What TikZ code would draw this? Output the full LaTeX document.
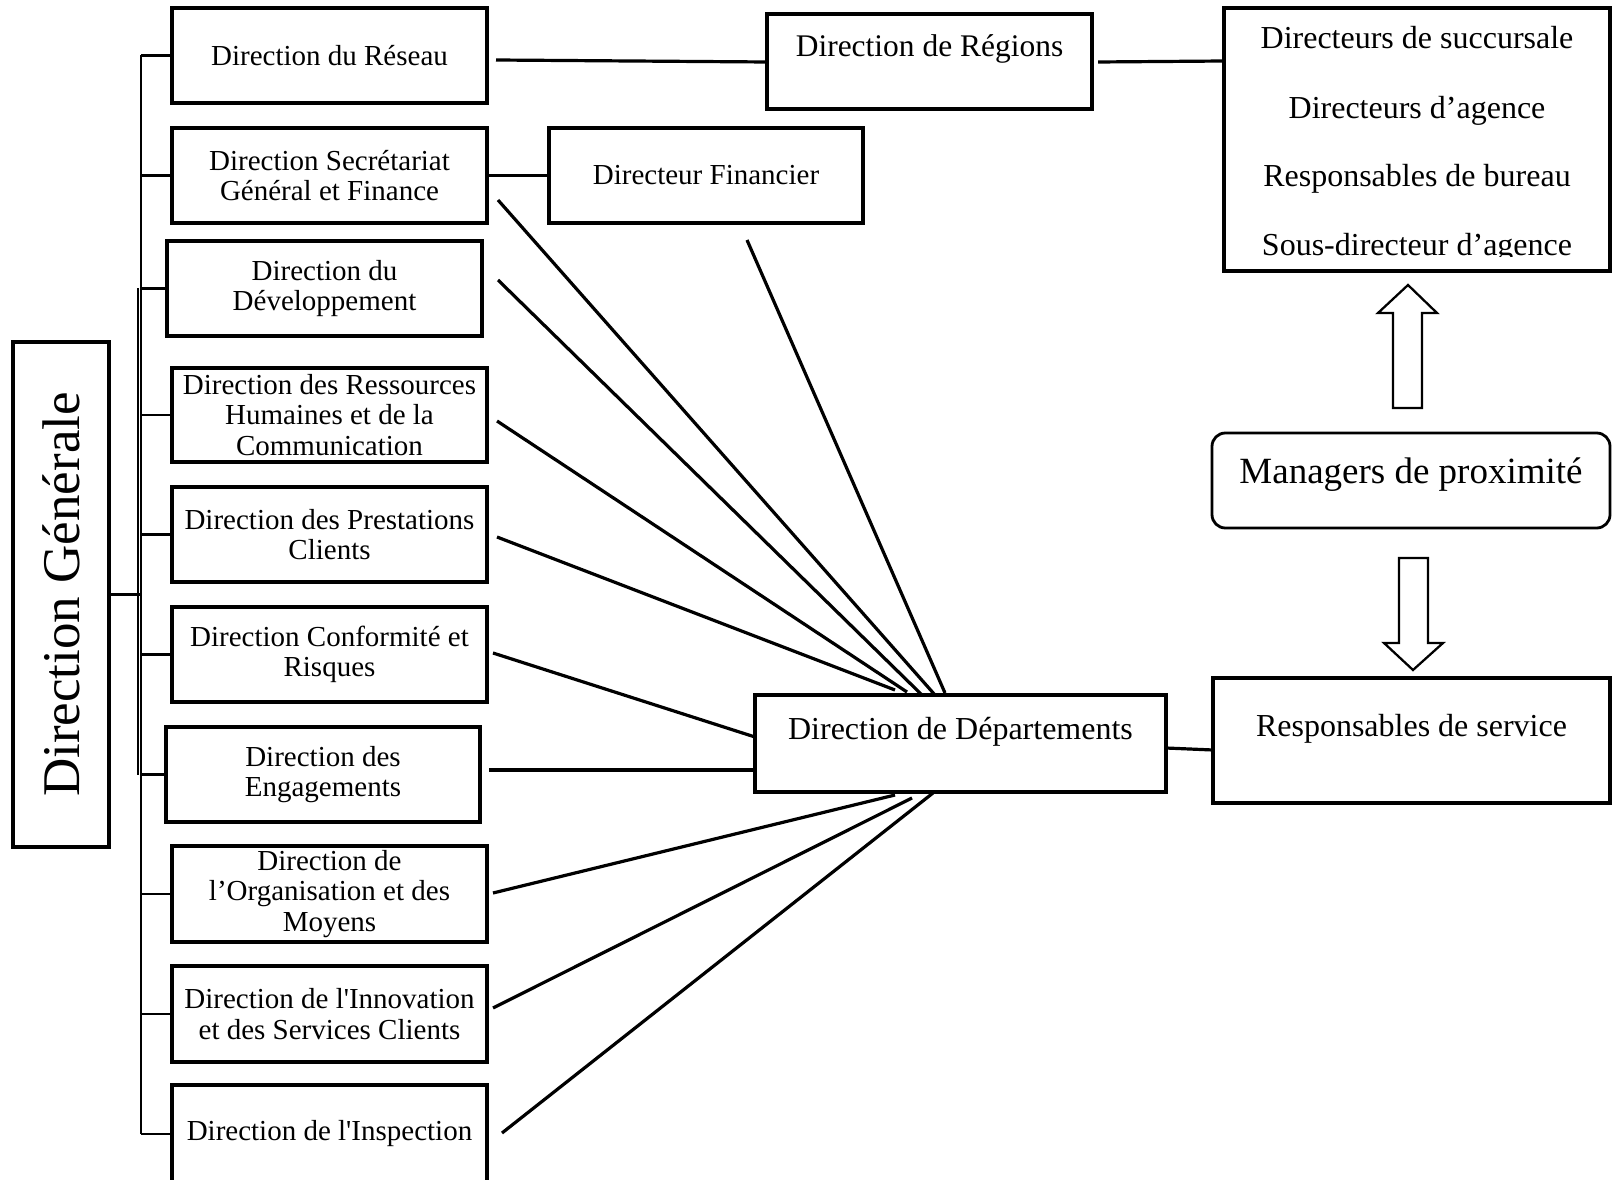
\documentclass[tikz,border=0pt]{standalone}
\usepackage{fontspec}
\setmainfont{Liberation Serif}[Ligatures=TeXOff]
\usetikzlibrary{calc}
\newcommand\pxf[2]{\fontsize{#1}{#2}\selectfont}
% box from corners (pixel units): [opts]{name}{x1}{y1}{x2}{y2}{text}
\newcommand\mkbox[7][]{%
  \node[box,#1,minimum width={(#5-#3)*0.75pt},minimum height={(#6-#4)*0.75pt}] (#2) at ({(#3+#5)/2},{(#4+#6)/2}) {#7};}
\begin{document}
\begin{tikzpicture}[x=0.75pt,y=-0.75pt,
  box/.style={draw, line width=2.4pt, inner sep=2pt, align=center, font=\pxf{21.75pt}{22.7pt}},
  conn/.style={line width=2.4pt},
  bus/.style={line width=2pt},
  thinbus/.style={line width=1.2pt},
  bigtxt/.style={inner sep=0pt, anchor=base, font=\pxf{24pt}{26pt}},
  blockarrow/.style={draw, line width=1.7pt, line join=miter}
]
\useasboundingbox (0,0) rectangle (1613,1180);

% ---------- left column ----------
\mkbox{dg}{13}{342}{109}{847}{\rotatebox{90}{\pxf{39.75pt}{42pt}Direction Générale}}
\mkbox{res}{172}{8}{487}{103}{Direction du Réseau}
\mkbox{sec}{172}{128}{487}{223}{Direction Secrétariat\\Général et Finance}
\mkbox{dev}{167}{241}{482}{336}{\rule{0pt}{1ex}Direction du\\Développement}
\mkbox{rh}{172}{368}{487}{462}{Direction des Ressources\\Humaines et de la\\Communication}
\mkbox{pre}{172}{487}{487}{582}{Direction des Prestations\\Clients}
\mkbox{con}{172}{607}{487}{702}{Direction Conformité et\\Risques}
\mkbox{eng}{166}{727}{480}{822}{Direction des\\Engagements}
\mkbox{org}{172}{846}{487}{942}{Direction de\\l’Organisation et des\\Moyens}
\mkbox{inn}{172}{966}{487}{1062}{Direction de l'Innovation\\et des Services Clients}
\mkbox{ins}{172}{1085}{487}{1183}{Direction de l'Inspection}

% ---------- middle ----------
\mkbox{fin}{549}{128}{863}{223}{Directeur Financier}
\mkbox{reg}{767}{14}{1092}{109}{}
\node[bigtxt, font=\pxf{23.6pt}{26pt}] (regT) at (929.5,57) {Direction de Régions};
\mkbox{dep}{755}{695}{1166}{792}{}
\node[bigtxt] (depT) at (960.5,739) {Direction de Départements};

% ---------- right ----------
\mkbox{suc}{1224}{8}{1610}{271}{}
\node[bigtxt] (suc1) at (1417,49) {Directeurs de succursale};
\node[bigtxt] (suc2) at (1417,118.5) {Directeurs d’agence};
\node[bigtxt] (suc3) at (1417,187) {Responsables de bureau};
\begin{scope}
  \clip (1226,200) rectangle (1608,257);
  \node[bigtxt] (suc4) at (1417,256) {Sous-directeur d’agence};
\end{scope}
\mkbox[rounded corners=10pt, line width=2.1pt]{man}{1212}{433}{1610}{528}{}
\node[bigtxt, font=\pxf{27.75pt}{30pt}] (manT) at (1411,483) {Managers de proximité};
\mkbox{rsv}{1213}{678}{1610}{803}{}
\node[bigtxt] (rsvT) at (1411.5,736) {Responsables de service};

% block arrows
\draw[blockarrow] (1393,408) -- (1393,313) -- (1378,313) -- (1408,285) -- (1437,313) -- (1422,313) -- (1422,408) -- cycle;
\draw[blockarrow] (1399,558) -- (1428,558) -- (1428,643) -- (1443,643) -- (1413,670) -- (1384,643) -- (1399,643) -- cycle;

% ---------- tree bus ----------
\coordinate (bus) at (141,0);
\coordinate (bus2) at (138,0);
\draw[bus] (res.west -| bus) -- (ins.west -| bus);
\draw[thinbus] (dev.west -| bus2) -- (eng.west -| bus2);
\draw[bus] (dg.east) -- (dg.east -| bus);
\foreach \b in {res,sec,dev,rh,pre,con,eng,org,inn,ins}
  \draw[bus] (\b.west -| bus) -- (\b.west);

% ---------- connectors ----------
\coordinate (resR) at (496,60);
\coordinate (regL) at (767,62);
\coordinate (regR) at (1098,62);
\coordinate (sucL) at (1224,61);
\draw[conn] (resR) -- (regL);
\draw[conn] (regR) -- (sucL);
\draw[conn] (sec.east) -- (fin.west);

% fan into Direction de Départements (top)
\coordinate (secS) at (498,200);  \coordinate (secE) at (935,695);
\coordinate (devS) at (498,280);  \coordinate (devE) at (922,695);
\coordinate (rhS)  at (497,421);  \coordinate (rhE)  at (907,692);
\coordinate (preS) at (497,537);  \coordinate (preE) at (895,690);
\coordinate (finS) at (747,240);  \coordinate (finE) at (945,693);
\draw[conn] (secS) -- (secE);
\draw[conn] (devS) -- (devE);
\draw[conn] (rhS) -- (rhE);
\draw[conn] (preS) -- (preE);
\draw[conn] (finS) -- (finE);
% left side
\coordinate (conS) at (493,653);  \coordinate (conE) at (755,737);
\coordinate (engS) at (489,770);  \coordinate (engE) at (755,770);
\draw[conn] (conS) -- (conE);
\draw[conn] (engS) -- (engE);
% bottom
\coordinate (orgS) at (493,893);  \coordinate (orgE) at (895,795);
\coordinate (innS) at (493,1008); \coordinate (innE) at (912,798);
\coordinate (insS) at (502,1133); \coordinate (insE) at (933,793);
\draw[conn] (orgS) -- (orgE);
\draw[conn] (innS) -- (innE);
\draw[conn] (insS) -- (insE);
% Departements -> Responsables de service
\coordinate (depR) at (1166,748);
\coordinate (rsvL) at (1213,750);
\draw[conn] (depR) -- (rsvL);
\end{tikzpicture}
\end{document}
